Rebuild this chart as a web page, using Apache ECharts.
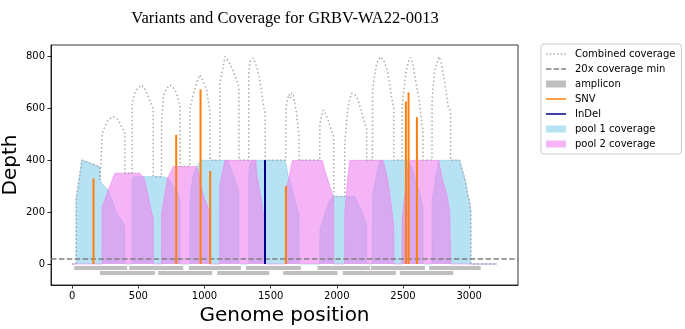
<!DOCTYPE html>
<html><head><meta charset="utf-8">
<script src="https://cdn.jsdelivr.net/npm/echarts@6/dist/echarts.min.js"></script>
<style>html,body{margin:0;padding:0;background:#fff}#c{width:685px;height:329px}</style>
</head><body><div id="c"></div>
<script>
// ---------- data ----------
const xTicks = [0, 500, 1000, 1500, 2000, 2500, 3000];
const yTicks = [0, 200, 400, 600, 800];

const pool1Coverage = [
  [0,0],[30,0],[31,253],[74,401],[140,388],[208,375],[211,324],[225,310],[273,286],[310,234],[336,196],[374,170],[398,144],[399,0],
  [453,0],[454,324],[470,337],[686,337],[724,330],[761,305],[791,280],[814,250],[815,0],
  [889,0],[890,250],[897,286],[910,330],[935,370],[973,400],[1177,400],[1192,380],[1215,345],[1253,291],[1260,280],[1261,0],
  [1334,0],[1335,350],[1346,390],[1360,400],[1607,400],[1620,376],[1632,337],[1645,324],[1660,290],[1683,250],[1705,205],[1714,195],[1715,0],
  [1871,0],[1872,131],[1910,196],[1947,247],[1972,260],[2136,260],[2174,221],[2211,170],[2225,160],[2226,0],
  [2269,0],[2270,260],[2295,330],[2325,400],[2536,400],[2567,371],[2604,305],[2632,266],[2644,228],[2651,220],[2652,0],
  [2719,0],[2720,240],[2745,330],[2770,400],[2929,400],[2937,382],[2955,350],[2970,324],[2987,273],[3000,247],[3007,221],[3012,210],[3013,0],[3210,0]
];

const pool2Coverage = [
  [0,0],[226,0],[227,221],[273,286],[323,350],[512,350],[545,330],[575,260],[601,196],[612,180],[613,0],
  [675,0],[676,196],[720,330],[764,376],[940,376],[952,360],[990,266],[1028,215],[1040,205],[1041,0],
  [1115,0],[1116,305],[1154,400],[1388,400],[1393,350],[1418,280],[1443,200],[1458,180],[1459,0],
  [1614,0],[1615,280],[1640,340],[1665,400],[1890,400],[1910,360],[1935,320],[1965,270],[1976,255],[1977,0],
  [2059,0],[2060,200],[2082,330],[2098,400],[2350,400],[2385,324],[2413,221],[2430,144],[2431,0],
  [2492,0],[2493,170],[2512,260],[2535,370],[2557,400],[2770,400],[2795,331],[2833,266],[2853,202],[2859,195],[2860,0],[3210,0]
];

const combinedCoverage = [
  [0,0],[30,0],[31,253],[74,401],[140,388],[208,375],[211,324],[226,320],[227,500],[235,517],[273,556],[311,569],[340,560],[361,543],[386,517],[398,505],[399,350],
  [453,350],[454,620],[470,655],[487,672],[525,691],[550,675],[575,646],[600,614],[612,600],[613,337],
  [675,337],[676,560],[690,646],[710,675],[739,691],[765,680],[789,659],[814,610],[815,376],
  [889,376],[890,600],[915,652],[940,700],[965,730],[990,705],[1016,671],[1033,614],[1040,600],[1041,400],
  [1115,400],[1116,700],[1124,715],[1154,800],[1185,780],[1217,743],[1255,691],[1260,680],[1261,400],
  [1334,400],[1335,740],[1343,781],[1368,795],[1395,760],[1418,712],[1443,620],[1458,580],[1459,400],
  [1614,400],[1615,600],[1625,633],[1640,655],[1648,640],[1660,660],[1672,650],[1696,582],[1708,517],[1714,500],[1715,400],
  [1871,400],[1872,540],[1885,575],[1897,594],[1915,580],[1934,556],[1955,520],[1976,490],[1977,260],
  [2059,260],[2060,460],[2075,560],[2090,620],[2111,659],[2123,665],[2145,650],[2165,625],[2190,580],[2213,543],[2225,520],[2226,400],
  [2269,400],[2270,660],[2276,694],[2300,772],[2330,800],[2360,780],[2387,736],[2400,690],[2413,646],[2430,600],[2431,400],
  [2492,400],[2493,600],[2501,646],[2521,736],[2540,780],[2555,797],[2575,770],[2595,710],[2620,640],[2645,530],[2651,520],[2652,400],
  [2719,400],[2720,640],[2740,749],[2773,800],[2790,775],[2803,736],[2825,670],[2841,607],[2859,590],[2860,400],
  [2929,400],[2937,382],[2955,350],[2970,324],[2987,273],[3000,247],[3007,221],[3012,210],[3013,0],[3210,0]
];

const ampliconsPool1 = [[16,416],[431,839],[882,1275],[1313,1728],[1854,2250],[2257,2665],[2697,3087]];
const ampliconsPool2 = [[210,625],[650,1058],[1096,1489],[1594,2005],[2045,2446],[2476,2879]];

const snvPositions = [161, 786, 970, 1043, 1615, 2522, 2542, 2605];
const snvDepths    = [330, 498, 674, 359, 301, 627, 662, 567];
const indelPositions = [1457];
const indelDepths    = [401];
const minDepth = 20;

// ---------- styling / layout ----------
const FONT = 'DejaVu Sans';
const BLUE = 'rgba(135,206,235,0.6)';
const PINK = 'rgba(238,130,238,0.6)';
const ROW_Y = [-15, -35];
const AMP_H = 4;
const X_RANGE = [-160, 3369];
const Y_RANGE = [-81, 845];

// legend icons (20 x 7 box; tiny corner squares fix the bounding box)
const BOX = 'M0,0h0.01v0.01h-0.01z M19.99,6.99h0.01v0.01h-0.01z ';
const ICON_SOLID = 'path://' + BOX + 'M0,2.75h20v1.5h-20z';
const ICON_DOTTED = 'path://' + BOX + [0, 3.7, 7.4, 11.1, 14.8, 18.5].map(x => `M${x},2.75h1.5v1.5h-1.5z`).join(' ');
const ICON_DASHED = 'path://' + BOX + [0, 7.6, 15.2].map(x => `M${x},2.75h${Math.min(5.5, 20 - x)}v1.5h-${Math.min(5.5, 20 - x)}z`).join(' ');

const ampData = ampliconsPool1.map(a => [a[0], a[1], ROW_Y[0]])
  .concat(ampliconsPool2.map(a => [a[0], a[1], ROW_Y[1]]));

const series = [
  { name: 'pool 1 coverage', type: 'line', data: pool1Coverage, symbol: 'none', silent: true,
    lineStyle: { color: BLUE, width: 1 }, itemStyle: { color: BLUE }, areaStyle: { color: BLUE, opacity: 1 }, z: 1 },
  { name: 'pool 2 coverage', type: 'line', data: pool2Coverage, symbol: 'none', silent: true,
    lineStyle: { color: PINK, width: 1 }, itemStyle: { color: PINK }, areaStyle: { color: PINK, opacity: 1 }, z: 2 },
  { name: 'Combined coverage', type: 'line', data: combinedCoverage, symbol: 'none', silent: true,
    lineStyle: { color: '#aaaaaa', width: 1.5, type: [1.5, 2.5] }, itemStyle: { color: '#aaaaaa' }, z: 3 },
  { name: '20x coverage min', type: 'line', data: [], symbol: 'none',
    lineStyle: { color: '#808080', width: 1.5, type: [5.5, 2.4] }, itemStyle: { color: '#808080' }, z: 4,
    markLine: { silent: true, symbol: ['none', 'none'], label: { show: false },
      lineStyle: { color: '#808080', width: 1.5, type: [5.5, 2.4] },
      data: [[{ coord: [X_RANGE[0], minDepth] }, { coord: [X_RANGE[1], minDepth] }]] } },
  { name: 'amplicon', type: 'custom', data: ampData, silent: true, z: 5,
    itemStyle: { color: '#bfbfbf' }, encode: { x: [0, 1], y: 2 },
    renderItem: (params, api) => {
      const s = api.coord([api.value(0), api.value(2)]);
      const e = api.coord([api.value(1), api.value(2)]);
      return { type: 'rect', shape: { x: s[0], y: s[1] - AMP_H / 2, width: e[0] - s[0], height: AMP_H },
        style: { fill: '#bfbfbf' } };
    } }
];
snvPositions.forEach((p, i) => series.push({
  name: 'SNV', type: 'line', data: [[p, 0], [p, snvDepths[i]]], symbol: 'none', silent: true, z: 6,
  lineStyle: { color: '#ff7f0e', width: 2 }, itemStyle: { color: '#ff7f0e' } }));
indelPositions.forEach((p, i) => series.push({
  name: 'InDel', type: 'line', data: [[p, 0], [p, indelDepths[i]]], symbol: 'none', silent: true, z: 7,
  lineStyle: { color: '#00008b', width: 2 }, itemStyle: { color: '#00008b' } }));

const axisCommon = {
  type: 'value',
  axisLine: { show: true, onZero: false, lineStyle: { color: '#000', width: 0.8 } },
  splitLine: { show: false },
  nameLocation: 'middle',
  nameTextStyle: { fontFamily: FONT, fontSize: 20, color: '#000' }
};
const fmt = v => String(v);

const option = {
  animation: false,
  backgroundColor: '#fff',
  grid: { left: 51, top: 45, width: 467, height: 240, show: true, borderColor: '#000', borderWidth: 0.8,
    containLabel: false, outerBoundsMode: 'none' },
  xAxis: Object.assign({}, axisCommon, {
    min: X_RANGE[0], max: X_RANGE[1], name: 'Genome position', nameGap: 19,
    axisTick: { show: true, length: 3.5, customValues: xTicks, lineStyle: { color: '#000', width: 0.8 } },
    axisLabel: { customValues: xTicks, formatter: fmt, margin: 6, fontFamily: FONT, fontSize: 10, color: '#000' }
  }),
  yAxis: Object.assign({}, axisCommon, {
    min: Y_RANGE[0], max: Y_RANGE[1], name: 'Depth', nameGap: 30, nameMoveOverlap: false,
    axisTick: { show: true, length: 3.5, customValues: yTicks, lineStyle: { color: '#000', width: 0.8 } },
    axisLabel: { customValues: yTicks, formatter: fmt, margin: 6, fontFamily: FONT, fontSize: 10, color: '#000' }
  }),
  legend: {
    left: 541, top: 44, orient: 'vertical', itemWidth: 20, itemHeight: 7, itemGap: 3,
    padding: [4, 6, 4, 5], borderColor: '#cccccc', borderWidth: 1, borderRadius: 3, backgroundColor: '#fff',
    selectedMode: false, symbolKeepAspect: false,
    textStyle: { fontFamily: FONT, fontSize: 10, color: '#000', lineHeight: 12, padding: [0, 0, 0, 4] },
    data: [
      { name: 'Combined coverage', icon: ICON_DOTTED },
      { name: '20x coverage min', icon: ICON_DASHED },
      { name: 'amplicon', icon: 'rect', itemStyle: { color: '#bfbfbf' } },
      { name: 'SNV', icon: ICON_SOLID },
      { name: 'InDel', icon: ICON_SOLID },
      { name: 'pool 1 coverage', icon: 'rect', itemStyle: { color: '#b7e2f3' } },
      { name: 'pool 2 coverage', icon: 'rect', itemStyle: { color: '#f5b4f5' } }
    ]
  },
  graphic: [{
    type: 'text', x: 285, y: 19, silent: true,
    style: { text: 'Variants and Coverage for GRBV-WA22-0013', textAlign: 'center', textVerticalAlign: 'middle',
      font: '16.5px "Liberation Serif"', fill: '#000' }
  }],
  series: series
};

const chart = echarts.init(document.getElementById('c'), null, { renderer: 'canvas' });
chart.setOption(option);
</script></body></html>
